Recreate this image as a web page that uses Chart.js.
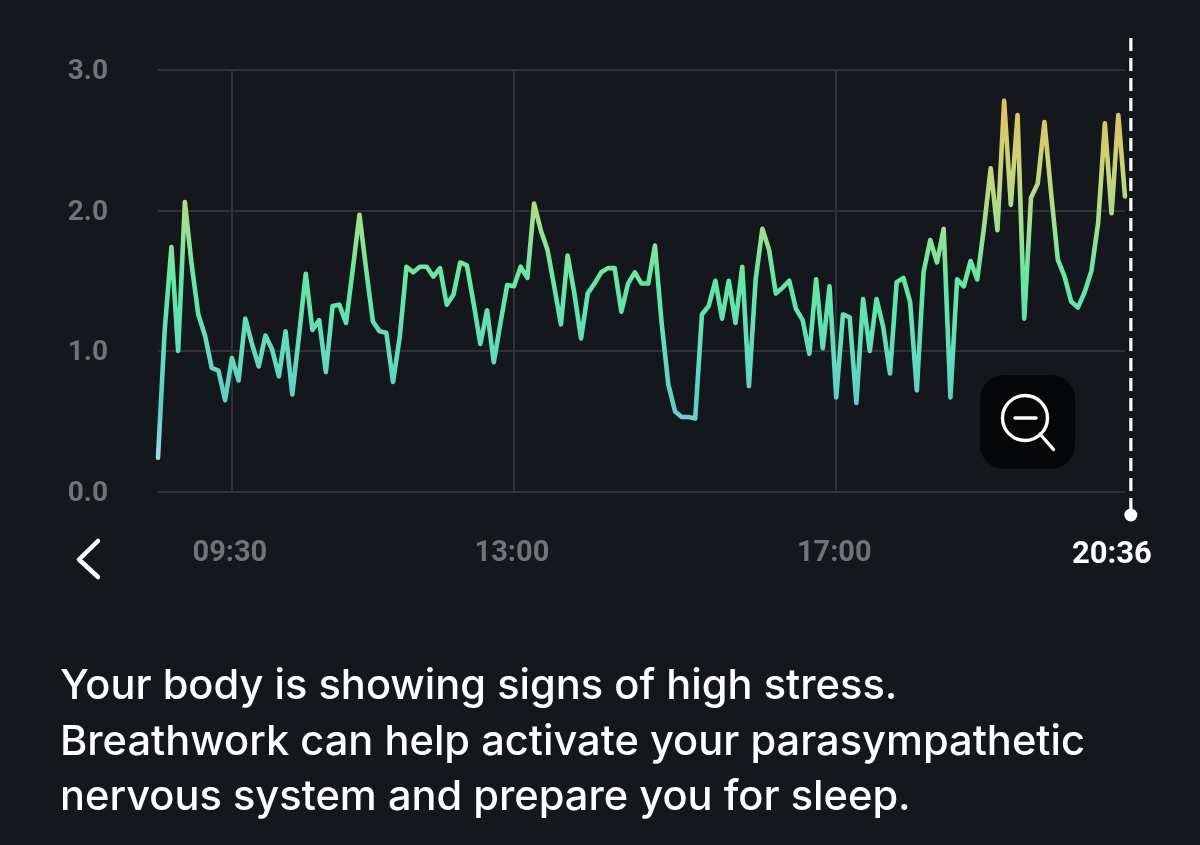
<!DOCTYPE html>
<html lang="en">
<head>
<meta charset="utf-8">
<title>Stress chart</title>
<script src="https://cdn.jsdelivr.net/npm/chart.js@4"></script>
<style>
html,body{margin:0;padding:0;background:#14171b;width:1200px;height:845px;overflow:hidden}
canvas{display:block;position:absolute;left:0;top:0}
svg{position:absolute;left:0;top:0;pointer-events:none}
#msg{position:absolute;left:60px;top:657px;width:1100px;color:#fff;font-family:Inter,sans-serif;font-weight:500;font-size:41.6px;line-height:55.5px;white-space:nowrap}
</style>
</head>
<body>
<canvas id="c" width="1200" height="845"></canvas>
<svg width="1200" height="845" viewBox="0 0 1200 845">
  <polyline points="98,541 79,559.5 98,577" fill="none" stroke="#fff" stroke-width="4.5" stroke-linecap="round" stroke-linejoin="round"/>
  <rect x="980" y="375" width="95" height="94" rx="24" fill="#060708"/>
  <circle cx="1025" cy="418" r="22.5" fill="none" stroke="#fff" stroke-width="3.4"/>
  <line x1="1015" y1="418" x2="1036" y2="418" stroke="#fff" stroke-width="3.4" stroke-linecap="round"/>
  <line x1="1040" y1="434" x2="1053.5" y2="449.5" stroke="#fff" stroke-width="3.4" stroke-linecap="round"/>
</svg>
<div id="msg">Your body is showing signs of high stress.<br>Breathwork can help activate your parasympathetic<br>nervous system and prepare you for sleep.</div>
<script>
// Minutes since midnight of the first sample, and the sample spacing
const startMinute = 515;
const stepMinutes = 5;
const stressValues = [
  0.24,1.15,1.74,1.00,2.06,1.62,1.26,1.11,0.88,0.86,
  0.65,0.95,0.79,1.23,1.05,0.89,1.11,1.01,0.82,1.14,
  0.69,1.11,1.55,1.15,1.22,0.85,1.32,1.33,1.20,1.58,
  1.97,1.58,1.21,1.14,1.13,0.78,1.10,1.60,1.56,1.60,
  1.60,1.53,1.59,1.33,1.40,1.63,1.61,1.34,1.05,1.29,
  0.92,1.20,1.47,1.46,1.60,1.52,2.05,1.86,1.72,1.46,
  1.19,1.68,1.41,1.09,1.41,1.48,1.56,1.59,1.59,1.28,
  1.48,1.56,1.48,1.48,1.75,1.20,0.76,0.57,0.53,0.53,
  0.52,1.26,1.32,1.50,1.23,1.50,1.20,1.60,0.75,1.51,
  1.87,1.72,1.41,1.45,1.50,1.30,1.22,0.98,1.51,1.02,
  1.46,0.67,1.26,1.24,0.63,1.37,1.00,1.37,1.17,0.84,
  1.49,1.52,1.35,0.72,1.56,1.79,1.63,1.87,0.67,1.51,
  1.46,1.64,1.51,1.88,2.30,1.86,2.78,2.04,2.68,1.23,
  2.09,2.19,2.63,2.12,1.65,1.53,1.35,1.31,1.42,1.57,
  1.91,2.62,1.98,2.68,2.10
];
const xTickMinutes = [570, 780, 1020];
const xTickLabels = ['09:30', '13:00', '17:00'];
const yTickValues = [0, 1, 2, 3];
const cursorMinute = 1236;
const cursorLabel = '20:36';
const gradientValues = [0.2, 0.6, 1.0, 1.5, 1.9, 2.3, 2.8];
const gradientColors = ['#a8dcea', '#5ecbd0', '#62dcbc', '#62e8a4', '#9fe08e', '#c8d47a', '#e8bd5e'];

const points = stressValues.map((v, i) => ({ x: startMinute + i * stepMinutes, y: v }));

function lineGradient(ctx) {
  const chart = ctx.chart;
  const y = chart.scales.y;
  if (!chart.chartArea || !y) return gradientColors[3];
  const top = y.getPixelForValue(3), bottom = y.getPixelForValue(0);
  if (!isFinite(top) || !isFinite(bottom)) return gradientColors[3];
  const g = chart.ctx.createLinearGradient(0, bottom, 0, top);
  gradientValues.forEach((v, i) => g.addColorStop(v / 3, gradientColors[i]));
  return g;
}

const cursorPlugin = {
  id: 'cursor',
  afterDatasetsDraw(chart) {
    const { ctx, scales } = chart;
    const x = scales.x.getPixelForValue(cursorMinute) + 4.5;
    const dotY = scales.y.getPixelForValue(0) + 23.5;
    ctx.save();
    ctx.strokeStyle = '#ffffff';
    ctx.lineWidth = 3.2;
    ctx.setLineDash([13, 7]);
    ctx.beginPath();
    ctx.moveTo(x, 38);
    ctx.lineTo(x, dotY);
    ctx.stroke();
    ctx.setLineDash([]);
    ctx.fillStyle = '#ffffff';
    ctx.beginPath();
    ctx.arc(x, dotY, 6.5, 0, Math.PI * 2);
    ctx.fill();
    ctx.font = 'bold 31px Roboto, sans-serif';
    ctx.textAlign = 'center';
    ctx.textBaseline = 'middle';
    ctx.fillText(cursorLabel, x - 19, 555);
    ctx.restore();
  }
};

new Chart(document.getElementById('c'), {
  type: 'line',
  data: {
    datasets: [{
      data: points,
      borderColor: lineGradient,
      borderWidth: 4.6,
      pointRadius: 0,
      tension: 0,
      fill: false,
      borderJoinStyle: 'round',
      borderCapStyle: 'round',
      clip: false
    }]
  },
  plugins: [cursorPlugin],
  options: {
    responsive: false,
    animation: false,
    devicePixelRatio: 1,
    layout: { padding: { left: 0, right: 75, top: 70, bottom: 273.5 } },
    plugins: { legend: { display: false }, tooltip: { enabled: false } },
    scales: {
      x: {
        type: 'linear',
        min: startMinute,
        max: startMinute + (stressValues.length - 1) * stepMinutes,
        afterBuildTicks(scale) { scale.ticks = xTickMinutes.map(v => ({ value: v })); },
        afterFit(scale) { scale.height = 80; },
        grid: { color: '#2f3236', lineWidth: 2, drawTicks: false },
        border: { display: false },
        ticks: {
          autoSkip: false, maxRotation: 0, padding: 44.5, labelOffset: -2,
          color: '#707377',
          font: { family: 'Roboto, sans-serif', size: 29, weight: 'bold' },
          callback(value) { return xTickLabels[xTickMinutes.indexOf(value)] ?? ''; }
        }
      },
      y: {
        min: 0,
        max: 3,
        afterBuildTicks(scale) { scale.ticks = yTickValues.map(v => ({ value: v })); },
        afterFit(scale) { scale.width = 158; },
        grid: { color: '#2f3236', lineWidth: 2, drawTicks: false },
        border: { display: false },
        ticks: {
          padding: 50, labelOffset: 2,
          color: '#707377',
          font: { family: 'Roboto, sans-serif', size: 28, weight: 'bold' },
          callback(value) { return value.toFixed(1); }
        }
      }
    }
  }
});
</script>
</body>
</html>
